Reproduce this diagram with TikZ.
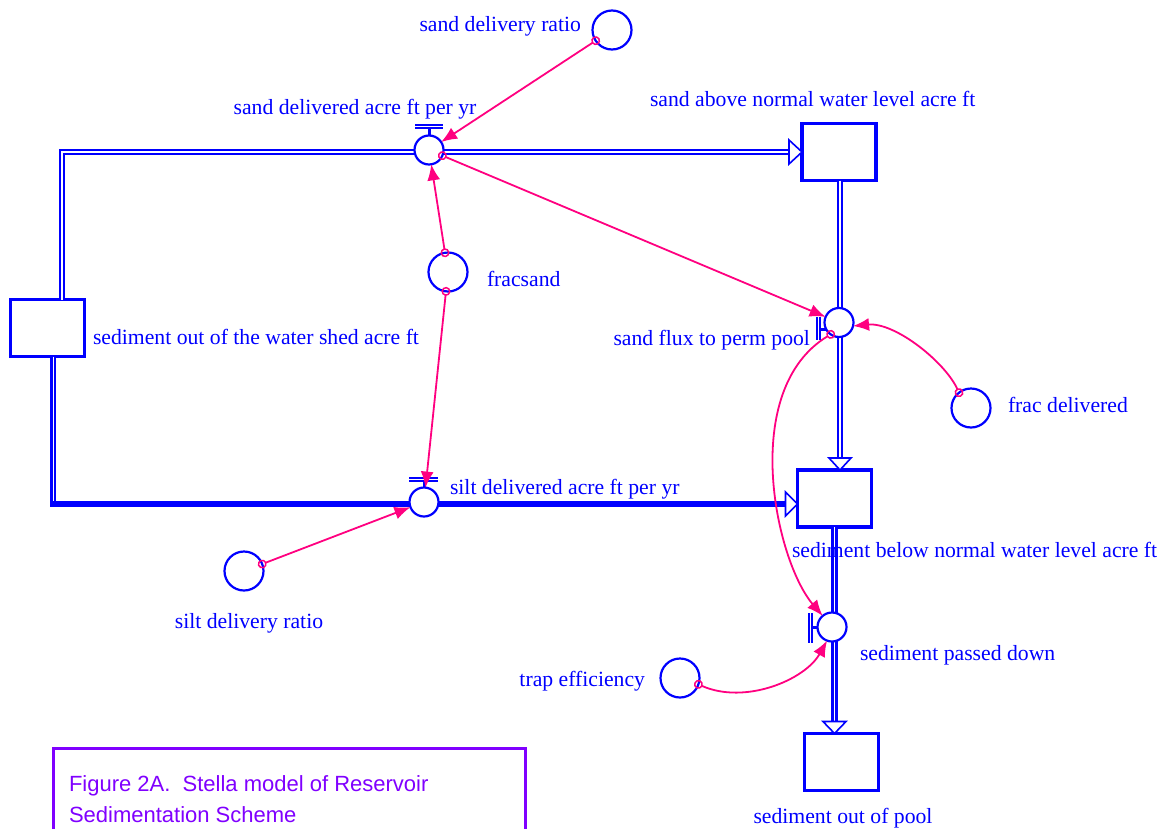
\documentclass[tikz,border=0pt]{standalone}
\usepackage{fontspec}
\setmainfont{Liberation Serif}
\newfontfamily\capfont{Liberation Sans}
\usetikzlibrary{arrows.meta}
\definecolor{sb}{RGB}{0,0,255}
\definecolor{mg}{RGB}{255,0,128}
\definecolor{pu}{RGB}{128,0,255}
\begin{document}
\begin{tikzpicture}[x=1pt,y=-1pt,
  every node/.style={inner sep=0pt, outer sep=0pt},
  lbl/.style={text=sb, font=\fontsize{21.7}{26}\selectfont},
  stock/.style={draw=sb, line width=3.2pt, fill=white, minimum width=74pt, minimum height=57pt},
  conv/.style={circle, draw=sb, line width=2.2pt, fill=white, minimum size=39pt},
  valvec/.style={circle, draw=sb, line width=2.2pt, fill=white, minimum size=29pt},
  pipe/.style={draw=sb, line width=2.3pt, double=white, double distance=1.2pt},
  pipehead/.style={draw=sb, line width=1.6pt, fill=white, line join=miter},
  conn/.style={draw=mg, line width=1.8pt, {Circle[open,length=9pt,width=9pt,line width=1.5pt]}-{Latex[length=16pt,width=13pt]}, shorten <=-4.5pt},
  tee/.style={draw=sb, line width=2pt, double=white, double distance=1pt},
  stem/.style={draw=sb, line width=3pt},
]
\useasboundingbox[fill=white] (0,0) rectangle (1168,828);

% stocks
\node[stock] (ws) at (47.5,328) {};
\node[stock] (sa) at (839,152) {};
\node[stock] (sb) at (834.5,498.5) {};
\node[stock] (sop) at (841.5,762) {};

% pipe coordinates
\coordinate (c1) at (62,152);
\coordinate (c1e) at (789,152);
\coordinate (c2) at (840,458);
\coordinate (c3) at (53,504);
\coordinate (c4) at (785,504);
\coordinate (c5) at (834.5,721);

% pipes
\draw[pipe] (ws.north -| c1) -- (c1) -- (c1e);
\draw[pipehead] (sa.west |- c1) -- ++(-13,-12) -- ++(0,24) -- cycle;
\draw[pipe] (sa.south -| c2) -- (c2);
\draw[pipehead] (sb.north -| c2) -- ++(-11,-12) -- ++(22,0) -- cycle;
\draw[pipe, double distance=1pt] (ws.south -| c3) -- (c3);
\draw[sb, line width=5.5pt] ([xshift=-3pt]c3) -- (c4);
\draw[pipehead] (sb.west |- c4) -- ++(-12,-12) -- ++(0,24) -- cycle;
\draw[pipe, line width=2.9pt, double distance=0.9pt] (sb.south -| c5) -- (c5);
\draw[pipehead] (sop.north -| c5) -- ++(-11.5,-12) -- ++(23,0) -- cycle;

% valve tees
\draw[tee] (415,126.5) -- (443,126.5);
\draw[stem] (429.5,128) -- (429.5,137);
\draw[tee] (409,479.5) -- (438,479.5);
\draw[stem] (424,481) -- (424,489);
\draw[tee] (818.5,317) -- (818.5,340);
\draw[stem] (820,329) -- (827,329);
\draw[tee] (810.5,613) -- (810.5,643);
\draw[stem] (812,627) -- (819,627);

% valves
\node[valvec] (sandv) at (429,150) {};
\node[valvec] (siltv) at (424,502) {};
\node[valvec] (sfv) at (839,322.5) {};
\node[valvec] (spd) at (832,627) {};

% converters
\node[conv] (sdr) at (612,30) {};
\node[conv] (fs) at (448,272) {};
\node[conv] (fd) at (971,408) {};
\node[conv] (sdrat) at (244,571) {};
\node[conv] (te) at (680,678) {};

% connectors
\draw[conn] (sdr) -- (sandv);
\draw[conn] (fs) -- (sandv);
\draw[conn] (fs) -- (siltv);
\draw[conn] (sandv) -- (sfv);
\draw[conn] (sdrat) -- (siltv);
\draw[conn] (fd.128) .. controls (945,362) and (895,322) .. (sfv.-14);
\draw[conn] (sfv.235) .. controls (739,390) and (775,560) .. (spd.130);
\draw[conn] (te.-19) .. controls (745,705) and (805,680) .. (spd.250);

% labels
\node[lbl, anchor=base east] (l1) at (581,31) {sand delivery ratio};
\node[lbl, anchor=base] (l2) at (355,114) {sand delivered acre ft per yr};
\node[lbl, anchor=base west] (l3) at (650,106) {sand above normal water level acre ft};
\node[lbl, anchor=base west] (l4) at (93,344) {sediment out of the water shed acre ft};
\node[lbl, anchor=base west] (l5) at (487,286) {fracsand};
\node[lbl, anchor=base east] (l6) at (810,345) {sand flux to perm pool};
\node[lbl, anchor=base west] (l7) at (1008,412) {frac delivered};
\node[lbl, anchor=base west] (l8) at (450,494) {silt delivered acre ft per yr};
\node[lbl, anchor=base west] (l9) at (792,557) {sediment below normal water level acre ft};
\node[lbl, anchor=base] (l10) at (249,628) {silt delivery ratio};
\node[lbl, anchor=base west] (l11) at (860,660) {sediment passed down};
\node[lbl, anchor=base east] (l12) at (645,686) {trap efficiency};
\node[lbl, anchor=base] (l13) at (843,823) {sediment out of pool};

% caption box
\draw[pu, line width=3pt] (53.5,840) -- (53.5,748.5) -- (525.5,748.5) -- (525.5,840);
\node[anchor=base west, text=pu, font=\capfont\fontsize{22}{31}\selectfont] (cap1) at (69,791) {Figure 2A.\ \ Stella model of Reservoir};
\node[anchor=base west, text=pu, font=\capfont\fontsize{22}{31}\selectfont] (cap2) at (69,822) {Sedimentation Scheme};
\end{tikzpicture}
\end{document}
